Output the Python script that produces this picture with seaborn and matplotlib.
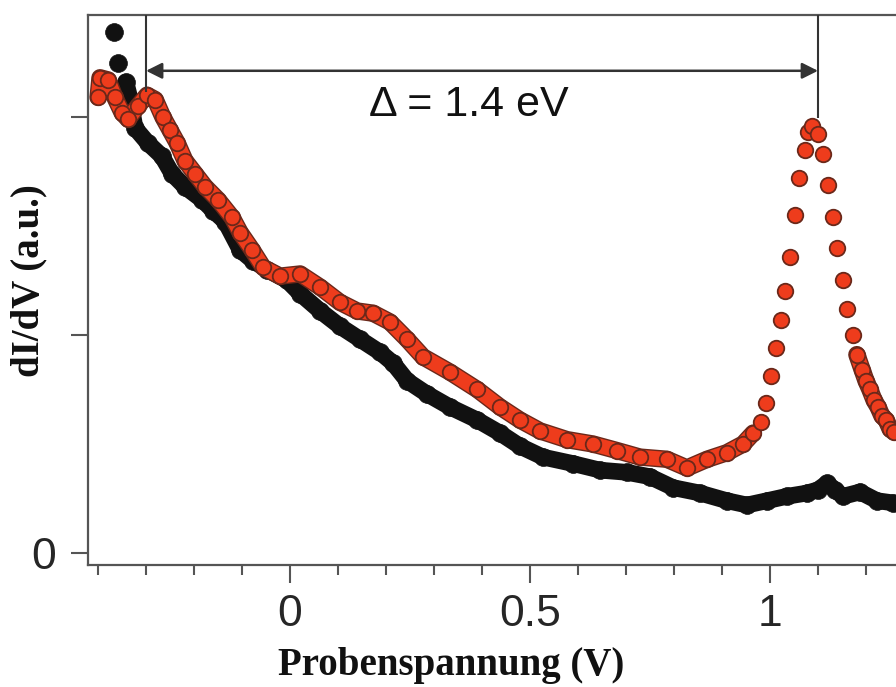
import numpy as np
import pandas as pd
import matplotlib
matplotlib.use("Agg")
import matplotlib.pyplot as plt
import matplotlib.patheffects as pe
import seaborn as sns

# ---------------- data ----------------
black_v = [-0.367, -0.358, -0.342, -0.333, -0.323, -0.296, -0.267, -0.246, -0.219, -0.183,
           -0.160, -0.135, -0.104, -0.077, -0.048, -0.006, 0.021, 0.063, 0.104, 0.146,
           0.188, 0.215, 0.244, 0.285, 0.333, 0.390, 0.4375, 0.479, 0.527, 0.590,
           0.646, 0.702, 0.750, 0.798, 0.854, 0.910, 0.952, 0.994, 1.035, 1.077,
           1.100, 1.119, 1.135, 1.152, 1.1875, 1.223, 1.256]
black_g = [2.39, 2.25, 2.16, 2.08, 1.95, 1.88, 1.82, 1.74, 1.68, 1.62,
           1.57, 1.52, 1.39, 1.34, 1.30, 1.25, 1.19, 1.11, 1.04, 0.98,
           0.92, 0.87, 0.79, 0.73, 0.67, 0.61, 0.55, 0.49, 0.44, 0.41,
           0.38, 0.37, 0.35, 0.30, 0.275, 0.24, 0.22, 0.24, 0.26, 0.275,
           0.29, 0.32, 0.29, 0.26, 0.28, 0.24, 0.23]

red_v = [-0.400, -0.396, -0.379, -0.365, -0.350, -0.3375, -0.317, -0.298, -0.281, -0.265,
         -0.250, -0.235, -0.219, -0.198, -0.177, -0.150, -0.121, -0.104, -0.079, -0.056,
         -0.021, 0.021, 0.0625, 0.104, 0.140, 0.173, 0.208, 0.244, 0.277, 0.333,
         0.390, 0.4375, 0.479, 0.521, 0.577, 0.631, 0.681, 0.729, 0.785, 0.827,
         0.869, 0.910, 0.944, 0.965, 0.981, 0.992, 1.002, 1.0125, 1.023, 1.031,
         1.042, 1.052, 1.060, 1.073, 1.079, 1.0875, 1.100, 1.110, 1.121, 1.131,
         1.140, 1.152, 1.160, 1.173, 1.181, 1.192, 1.200, 1.208, 1.217, 1.225,
         1.233, 1.242, 1.250, 1.258]
red_g = [2.09, 2.18, 2.17, 2.09, 2.02, 1.99, 2.05, 2.10, 2.08, 2.00,
         1.94, 1.88, 1.80, 1.74, 1.68, 1.62, 1.54, 1.47, 1.39, 1.31,
         1.27, 1.28, 1.22, 1.15, 1.11, 1.10, 1.06, 0.98, 0.90, 0.83,
         0.75, 0.67, 0.61, 0.56, 0.52, 0.50, 0.47, 0.44, 0.43, 0.39,
         0.43, 0.46, 0.50, 0.55, 0.60, 0.69, 0.81, 0.94, 1.07, 1.20,
         1.36, 1.55, 1.72, 1.85, 1.93, 1.96, 1.92, 1.83, 1.69, 1.54,
         1.40, 1.25, 1.12, 1.00, 0.91, 0.84, 0.79, 0.75, 0.70, 0.67,
         0.63, 0.61, 0.57, 0.555]

x_major = [0, 0.5, 1]
x_major_labels = ["0", "0.5", "1"]
x_minor = [-0.4, -0.3, -0.2, -0.1, 0.1, 0.2, 0.3, 0.4, 0.6, 0.7, 0.8, 0.9, 1.1, 1.2]
y_ticks = [0, 1, 2]
y_tick_labels = ["0", "", ""]

gap_start, gap_end = -0.3, 1.1       # onset and peak (Delta = 1.4 eV)
gap_label = "Δ = 1.4 eV"
xlabel = "Probenspannung (V)"
ylabel = "dI/dV (a.u.)"

# ---------------- styling ----------------
sns.set_style("white")
plt.rcParams["font.family"] = ["Liberation Sans", "DejaVu Sans"]

RED_FACE = "#ee3c1c"
RED_EDGE = "#6a281a"
BLACK = "#111111"
AXCOL = "#555555"

fig = plt.figure(figsize=(8.96, 6.87), dpi=100)
ax = fig.add_axes([0.0982, 0.1776, 0.9018, 0.8006])

black = pd.DataFrame({"V": black_v, "G": black_g})
red = pd.DataFrame({"V": red_v, "G": red_g})

# black spectrum: dense band + dots
sns.lineplot(data=black.iloc[2:], x="V", y="G", ax=ax, color=BLACK, lw=12,
             sort=False, estimator=None, solid_capstyle="round",
             solid_joinstyle="round", zorder=2)
sns.scatterplot(data=black, x="V", y="G", ax=ax, color=BLACK, s=165,
                edgecolor=BLACK, linewidth=0.5, zorder=3)

# red spectrum: dense bands away from the peak, single dots at the peak
red_left = red[red["V"] <= 0.97]
red_right = red[red["V"] >= 1.18]
for seg in (red_left, red_right):
    sns.lineplot(data=seg, x="V", y="G", ax=ax, color=RED_FACE, lw=10.5,
                 sort=False, estimator=None, solid_capstyle="round",
                 solid_joinstyle="round", zorder=4,
                 path_effects=[pe.Stroke(linewidth=12.5, foreground=RED_EDGE), pe.Normal()])
sns.scatterplot(data=red, x="V", y="G", ax=ax, color=RED_FACE, s=125,
                edgecolor=RED_EDGE, linewidth=1.3, zorder=5)

# ---------------- axes ----------------
ax.set_xlim(-0.421, 1.2625)
ax.set_ylim(-0.055, 2.468)
ax.set_xlabel("")
ax.set_ylabel("")

ax.set_xticks(x_major, labels=x_major_labels)
ax.set_xticks(x_minor, minor=True)
ax.set_yticks(y_ticks, labels=y_tick_labels)

ax.tick_params(axis="x", which="major", direction="out", length=13, width=1.5,
               color=AXCOL, pad=8, labelsize=32, bottom=True)
ax.tick_params(axis="x", which="minor", direction="out", length=7, width=1.5,
               color=AXCOL, bottom=True)
ax.tick_params(axis="y", which="major", direction="out", length=12, width=1.5,
               color=AXCOL, pad=11, labelsize=32, left=True)

for side in ("left", "bottom", "top"):
    ax.spines[side].set_color(AXCOL)
    ax.spines[side].set_linewidth(1.6)
    ax.spines[side].set_visible(True)
ax.spines["right"].set_visible(False)

# ---------------- gap annotation ----------------
top = ax.get_ylim()[1]
ax.vlines(gap_start, 2.115, top, color="#333333", lw=1.5, zorder=6)
ax.vlines(gap_end, 1.995, top, color="#333333", lw=1.5, zorder=6)
ax.annotate("", xy=(gap_start, 2.212), xytext=(gap_end, 2.212),
            arrowprops=dict(arrowstyle="<|-|>", color="#333333", lw=1.8,
                            shrinkA=0, shrinkB=0, mutation_scale=24))
ax.text((gap_start + gap_end) / 2 - 0.027, 2.055, gap_label, ha="center", va="center",
        fontsize=31, color="#111111")

# ---------------- axis titles ----------------
fig.text(451 / 896, 12 / 687, xlabel, ha="center", va="baseline",
         fontsize=28, fontweight="bold", family=["Liberation Serif", "DejaVu Serif"],
         color="#111111")
fig.text(29 / 896, 1 - 281 / 687, ylabel, ha="center", va="center", rotation=90,
         fontsize=28, fontweight="bold", family=["Liberation Serif", "DejaVu Serif"],
         color="#111111")

fig.savefig("out.png", dpi=100)
